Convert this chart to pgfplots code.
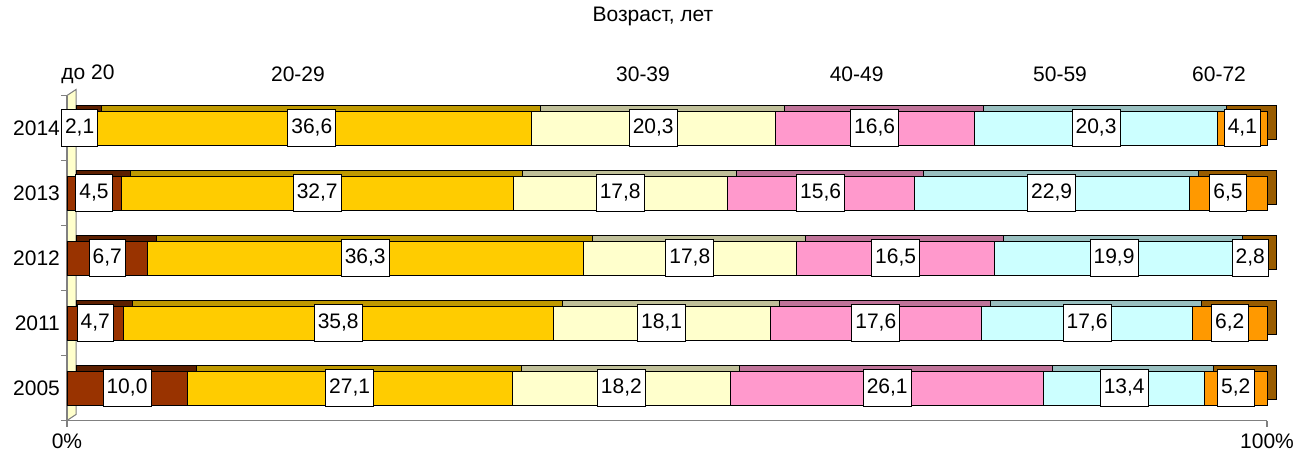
\documentclass[border=0pt]{standalone}
\usepackage{pgfplots}
\pgfplotsset{compat=1.18}
\usepackage{pgfplotstable}
\usepackage{fontspec}
\setmainfont{Liberation Sans}
\definecolor{cA}{HTML}{993300}
\definecolor{cB}{HTML}{FFCC00}
\definecolor{cC}{HTML}{FFFFCC}
\definecolor{cD}{HTML}{FF99CC}
\definecolor{cE}{HTML}{CCFFFF}
\definecolor{cF}{HTML}{FF9900}
\definecolor{axgray}{HTML}{808080}

\pgfplotstableread{
idx year a b c d e f
0 2005 10.0 27.1 18.2 26.1 13.4 5.2
1 2011 4.7 35.8 18.1 17.6 17.6 6.2
2 2012 6.7 36.3 17.8 16.5 19.9 2.8
3 2013 4.5 32.7 17.8 15.6 22.9 6.5
4 2014 2.1 36.6 20.3 16.6 20.3 4.1
}\data

\newcommand\fs{\fontsize{10.5}{12}\selectfont}
\pgfplotsset{
  base/.style={
    xbar stacked, bar width=17pt,
    width=600pt, height=162.5pt, scale only axis,
    xmin=0, xmax=100, ymin=-0.5, ymax=4.5,
    clip=false,
    /pgf/number format/assume math mode=true,
  },
}

\begin{document}
\begin{tikzpicture}
% back wall
\fill[cC, draw=axgray, line width=0.5pt] (0pt,0pt) -- (4.5pt,3pt) -- (4.5pt,165.5pt) -- (0pt,162.5pt) -- cycle;

% depth (top/side faces)
\begin{axis}[base, at={(4.5pt,3pt)}, anchor=south west, hide axis]
 \addplot[fill=cA!60!black, draw=black, line width=0.4pt] table[x=a,y=idx]{\data};
 \addplot[fill=cB!75!black, draw=black, line width=0.4pt] table[x=b,y=idx]{\data};
 \addplot[fill=cC!75!black, draw=black, line width=0.4pt] table[x=c,y=idx]{\data};
 \addplot[fill=cD!75!black, draw=black, line width=0.4pt] table[x=d,y=idx]{\data};
 \addplot[fill=cE!75!black, draw=black, line width=0.4pt] table[x=e,y=idx]{\data};
 \addplot[fill=cF!60!black, draw=black, line width=0.4pt] table[x=f,y=idx]{\data};
\end{axis}

% front faces
\begin{axis}[base, at={(0pt,0pt)}, anchor=south west,
  axis x line*=bottom, axis y line*=left,
  axis line style={axgray, line width=0.6pt},
  tick style={axgray, line width=0.6pt},
  tick align=outside, major tick length=3pt,
  xtick={0,100}, xticklabels={0\%,100\%},
  ytick={-0.5,0.5,1.5,2.5,3.5,4.5},
  yticklabels={2005,2011,2012,2013,2014,{}},
  yticklabel style={yshift=16.25pt, xshift=3pt},
  tick label style={font=\fs, text=black},
]
 \addplot[fill=cA, draw=black, line width=0.4pt] table[x=a,y=idx]{\data};
 \addplot[fill=cB, draw=black, line width=0.4pt] table[x=b,y=idx]{\data};
 \addplot[fill=cC, draw=black, line width=0.4pt] table[x=c,y=idx]{\data};
 \addplot[fill=cD, draw=black, line width=0.4pt] table[x=d,y=idx]{\data};
 \addplot[fill=cE, draw=black, line width=0.4pt] table[x=e,y=idx]{\data};
 \addplot[fill=cF, draw=black, line width=0.4pt] table[x=f,y=idx]{\data};
 \node[font=\fs] at (axis cs:48.83,5.71) {Возраст, лет};
 \node[font=\fs] at (axis cs:1.75,4.83) {до 20};
 \node[font=\fs] at (axis cs:19.25,4.83) {20-29};
 \node[font=\fs] at (axis cs:48,4.83) {30-39};
 \node[font=\fs] at (axis cs:65.8,4.83) {40-49};
 \node[font=\fs] at (axis cs:82.75,4.83) {50-59};
 \node[font=\fs] at (axis cs:96,4.83) {60-72};
\end{axis}

% value labels
\begin{axis}[base, at={(0pt,0pt)}, anchor=south west, hide axis,
  point meta=explicit,
  nodes near coords={\pgfmathprintnumber[fixed,fixed zerofill,precision=1,use comma]{\pgfplotspointmeta}},
  every node near coord/.append style={anchor=center,
     fill=white, draw=black, line width=0.4pt, inner xsep=1.8pt, inner ysep=0pt,
     minimum height=18.5pt, font=\fs, text=black},
]
 \addplot[draw=none, fill=none] table[x=a,y=idx,meta=a]{\data};
 \addplot[draw=none, fill=none] table[x=b,y=idx,meta=b]{\data};
 \addplot[draw=none, fill=none] table[x=c,y=idx,meta=c]{\data};
 \addplot[draw=none, fill=none] table[x=d,y=idx,meta=d]{\data};
 \addplot[draw=none, fill=none] table[x=e,y=idx,meta=e]{\data};
 \addplot[draw=none, fill=none] table[x=f,y=idx,meta=f]{\data};
\end{axis}
\pgfresetboundingbox
\path (-33.5pt,-17.75pt) rectangle (619.5pt,210.25pt);
\end{tikzpicture}
\end{document}
